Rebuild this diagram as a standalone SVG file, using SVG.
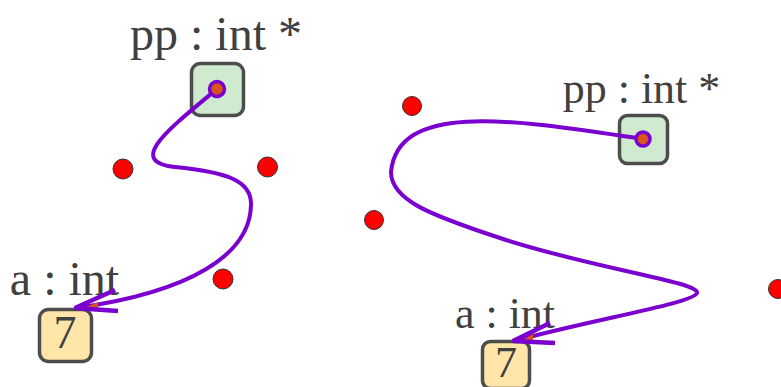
<svg xmlns="http://www.w3.org/2000/svg" width="781" height="387" viewBox="0 0 781 387">
<style>
.lbl{font-family:"Liberation Serif","Times New Roman",serif;fill:#404040;text-anchor:middle}
.ptr{fill:#d0ead0;stroke:#4d4d4d;stroke-width:3.5}
.val{fill:#ffe6a8;stroke:#4d4d4d;stroke-width:3.5}
.edge{fill:none;stroke:#7a00d0;stroke-width:4;stroke-linecap:round}
.head{fill:none;stroke:#7a00d0;stroke-width:4.5;stroke-linecap:butt;stroke-linejoin:miter}
.headfill{fill:#d9541a}
.tail{fill:#d9541a;stroke:#7a00d0;stroke-width:3.5}
.cp{fill:#ff0000;stroke:#333;stroke-width:1}
</style>
<rect width="781" height="387" fill="#ffffff"/>
<g id="node-pp-left">
<rect class="ptr" x="191.5" y="63.5" width="52" height="52" rx="9"/>
<text class="lbl" x="216" y="50" font-size="48">pp : int *</text>
</g>
<g id="node-a-left">
<rect class="val" x="39.5" y="309.5" width="52" height="52" rx="9"/>
<text class="lbl" x="65" y="348" font-size="46">7</text>
<text class="lbl" x="64.5" y="295" font-size="48">a : int</text>
</g>
<g id="node-pp-right">
<rect class="ptr" x="619.5" y="115.5" width="48" height="48" rx="8"/>
<text class="lbl" x="641.5" y="103" font-size="44">pp : int *</text>
</g>
<g id="node-a-right">
<rect class="val" x="482.5" y="341.5" width="47" height="47" rx="8"/>
<text class="lbl" x="506" y="377" font-size="44">7</text>
<text class="lbl" x="505" y="328" font-size="44">a : int</text>
</g>
<g id="control-points">
<circle class="cp" cx="123" cy="169" r="10"/>
<circle class="cp" cx="267.5" cy="167" r="10"/>
<circle class="cp" cx="223" cy="279" r="10"/>
<circle class="cp" cx="374" cy="220" r="9.5"/>
<circle class="cp" cx="412" cy="106" r="9.5"/>
<circle class="cp" cx="778" cy="289" r="9.5"/>
</g>
<g id="connectors">
<g id="edge-left">
<path class="edge" d="M217,89 C170,128 125,162 175,167 C225,172 252,180 251,205 C250,255 190,292 76,308"/>
<polygon class="headfill" points="84,308 98,302 98,310"/>
<path class="head" d="M115,290 L75,308 L118,311"/>
<circle class="tail" cx="217" cy="89" r="7.5"/>
</g>
<g id="edge-right">
<path class="edge" d="M643,139 C520,121 398,99 391,172 C391,200 430,215 500,238 C590,268 700,282 697,293 C694,303 600,318 514,341"/>
<polygon class="headfill" points="523,340 533,334 533,341"/>
<path class="head" d="M550,323 L513,341 L555,343"/>
<circle class="tail" cx="643" cy="139" r="7"/>
</g>
</g>
</svg>
